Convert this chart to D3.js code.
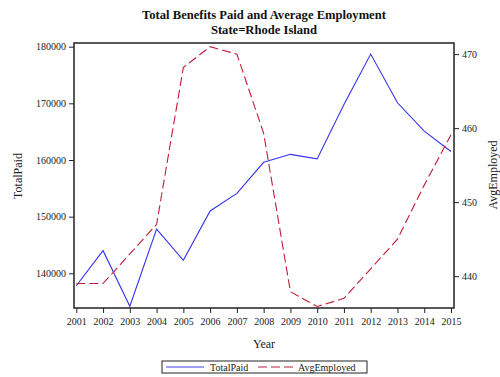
<!DOCTYPE html>
<html>
<head>
<meta charset="utf-8">
<script src="https://cdn.jsdelivr.net/npm/d3@7"></script>
<style>
  body { margin: 0; background: #fff; }
  svg { display: block; font-family: "Liberation Serif", "Times New Roman", serif; }
</style>
</head>
<body>
<svg id="chart" width="500" height="377"></svg>
<script>
const years = [2001,2002,2003,2004,2005,2006,2007,2008,2009,2010,2011,2012,2013,2014,2015];
const totalPaid = [137800,144000,134200,147800,142300,151000,154100,159600,161000,160200,169800,178700,170100,165100,161500];
const avgEmployed = [439,439,443,447,468.2,471,470,459.3,437.9,435.9,437,441,445,452.3,459.1];
const leftTicks = [140000,150000,160000,170000,180000];
const rightTicks = [440,450,460,470];

const svg = d3.select("#chart");
const L = 74, R = 454, T = 43, B = 308;

const x = d3.scaleLinear().domain([2001, 2015]).range([76.3, 451]);
const yL = d3.scaleLinear().domain([133880, 180650]).range([B, T]);
const yR = d3.scaleLinear().domain([435.7, 471.5]).range([B, T]);

// frame
svg.append("rect").attr("x", L).attr("y", T).attr("width", R - L).attr("height", B - T)
  .attr("fill", "none").attr("stroke", "#222").attr("stroke-width", 1.5);

function styleAxis(g) {
  g.selectAll(".domain").remove();
  g.selectAll(".tick line").attr("stroke", "#222").attr("stroke-width", 1);
  g.selectAll(".tick text").attr("fill", "#222").attr("font-size", "10px")
    .attr("font-family", "Liberation Serif, Times New Roman, serif");
}

svg.append("g").attr("transform", `translate(0,${B})`)
  .call(d3.axisBottom(x).tickValues(years).tickFormat(d3.format("d")).tickSize(5).tickPadding(5))
  .call(styleAxis);

svg.append("g").attr("transform", `translate(${L},0)`)
  .call(d3.axisLeft(yL).tickValues(leftTicks).tickFormat(d3.format("d")).tickSize(5).tickPadding(3))
  .call(styleAxis);

svg.append("g").attr("transform", `translate(${R},0)`)
  .call(d3.axisRight(yR).tickValues(rightTicks).tickFormat(d3.format("d")).tickSize(5).tickPadding(3))
  .call(styleAxis);

// lines
const lineL = d3.line().x((d, i) => x(years[i])).y(d => yL(d));
const lineR = d3.line().x((d, i) => x(years[i])).y(d => yR(d));

svg.append("path").datum(totalPaid).attr("d", lineL)
  .attr("fill", "none").attr("stroke", "#3333ee").attr("stroke-width", 1.1);
svg.append("path").datum(avgEmployed).attr("d", lineR)
  .attr("fill", "none").attr("stroke", "#c01c38").attr("stroke-width", 1.1)
  .attr("stroke-dasharray", "9,4");

// titles
svg.append("text").attr("x", 264).attr("y", 19).attr("text-anchor", "middle")
  .attr("font-size", "12.6px").attr("font-weight", "bold").attr("fill", "#111")
  .text("Total Benefits Paid and Average Employment");
svg.append("text").attr("x", 264).attr("y", 33.5).attr("text-anchor", "middle")
  .attr("font-size", "12.6px").attr("font-weight", "bold").attr("fill", "#111")
  .text("State=Rhode Island");

// axis labels
svg.append("text").attr("transform", "translate(22,176) rotate(-90)").attr("text-anchor", "middle")
  .attr("font-size", "12px").attr("fill", "#222").text("TotalPaid");
svg.append("text").attr("transform", "translate(497,175) rotate(-90)").attr("text-anchor", "middle")
  .attr("font-size", "12px").attr("fill", "#222").text("AvgEmployed");
svg.append("text").attr("x", 264).attr("y", 348).attr("text-anchor", "middle")
  .attr("font-size", "12px").attr("fill", "#222").text("Year");

// legend
const lg = svg.append("g");
lg.append("rect").attr("x", 162).attr("y", 361).attr("width", 205).attr("height", 12)
  .attr("fill", "#fff").attr("stroke", "#222").attr("stroke-width", 1);
lg.append("line").attr("x1", 166).attr("x2", 204).attr("y1", 367).attr("y2", 367)
  .attr("stroke", "#8080f0").attr("stroke-width", 1.5);
lg.append("text").attr("x", 210).attr("y", 370.5).attr("font-size", "10px").attr("fill", "#222").text("TotalPaid");
lg.append("line").attr("x1", 258).attr("x2", 293).attr("y1", 367).attr("y2", 367)
  .attr("stroke", "#d06a7c").attr("stroke-width", 1.5).attr("stroke-dasharray", "9,4");
lg.append("text").attr("x", 298).attr("y", 370.5).attr("font-size", "10px").attr("fill", "#222").text("AvgEmployed");
</script>
</body>
</html>
